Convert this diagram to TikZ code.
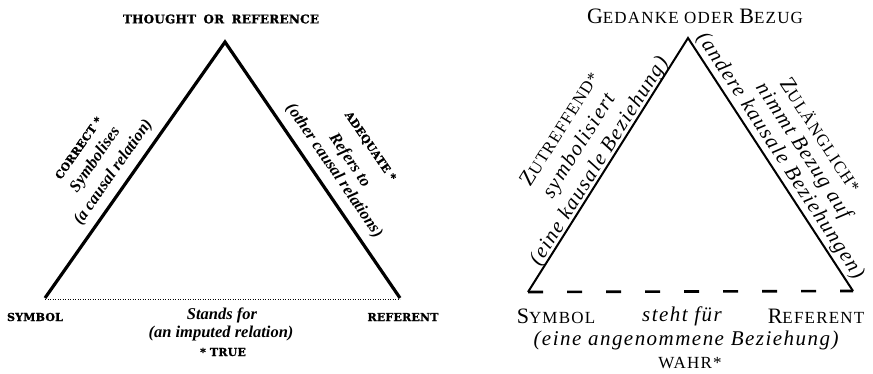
\documentclass[tikz,border=0pt]{standalone}
\usepackage{fontspec}
\setmainfont{Liberation Serif}
\newfontfamily\slabfont[LetterSpace=2, BoldFeatures={FakeBold=1.2}]{DejaVu Serif}
\newfontfamily\oldit{Liberation Serif}
\newfontfamily\minion[LetterSpace=7]{Liberation Serif}
\newfontfamily\minionit[LetterSpace=7]{Liberation Serif}
\newcommand\Bg[1]{{\fontsize{22}{24}\selectfont #1}}
\newcommand\Sm[1]{{\fontsize{17}{20}\selectfont #1}}
\tikzset{
  lcaps/.style={font=\slabfont\bfseries\fontsize{11}{12}\selectfont, inner sep=0pt},
  ltitle/.style={font=\slabfont\bfseries\fontsize{12}{14}\selectfont, inner sep=0pt},
  lit/.style={font=\oldit\bfseries\itshape\fontsize{16.5}{19}\selectfont, inner sep=0pt},
  rsc/.style={font=\minion, inner sep=0pt},
  rit/.style={font=\minionit\itshape\fontsize{21}{24}\selectfont, inner sep=0pt},
  lside/.style={line width=3.2pt, line join=miter, line cap=butt},
  rside/.style={line width=2pt, line join=miter, line cap=butt},
  ldots/.style={line width=0.9pt, dash pattern=on 0.9pt off 1.6pt},
  rdash/.style={line width=2.6pt, dash pattern=on 15pt off 24pt}
}
\begin{document}
\begin{tikzpicture}[x=1pt,y=-1pt]
\useasboundingbox (0,0) rectangle (873,373);
\fill[white] (0,0) rectangle (873,373);
% ---------- left triangle ----------
\coordinate (LA) at (225,42);
\coordinate (LS) at (45,298);
\coordinate (LR) at (400,298);
\draw[lside] (LS) -- (LA) -- (LR);
\draw[ldots] ([yshift=-1.5pt]LS) -- ([yshift=-1.5pt]LR);
\node[ltitle] (lt) at (221,19) {THOUGHT\hspace{3pt} OR\hspace{3pt} REFERENCE};
\node[lcaps] (lsym) at (35,317) {SYMBOL};
\node[lcaps] (lref) at (403,317) {REFERENT};
\node[lit] (lstand) at (222,315) {Stands for};
\node[lit] (limp) at (221,334) {(an imputed relation)};
\node[lcaps] (ltrue) at (223,352) {* TRUE};
\node[lit, rotate=55] (lcaus) at (113.5,172.5) {(a causal relation)};
\node[lit, rotate=55] (lsymb) at (95.5,160) {Symbolises};
\node[lcaps, rotate=55] (lcorr) at (78.5,148) {CORRECT *};
\node[lit, rotate=-55.6] (loth) at (334,171) {(other causal relations)};
\node[lit, rotate=-55.6] (lrefs) at (349.5,160.5) {Refers to};
\node[lcaps, rotate=-55.6] (ladeq) at (370,146.5) {ADEQUATE *};
% ---------- right triangle ----------
\coordinate (RA) at (688,38);
\coordinate (RS) at (528,292);
\coordinate (RR) at (853,291);
\draw[rside] (RS) -- (RA) -- (RR);
\draw[rdash] (RS) -- (RR);
\node[rsc] (rt) at (695,16) {\Bg{G}\Sm{EDANKE ODER }\Bg{B}\Sm{EZUG}};
\node[rsc] (rsym) at (556,316) {\Bg{S}\Sm{YMBOL}};
\node[rit] (rsteht) at (682,316) {steht für};
\node[rsc] (rref) at (816,316) {\Bg{R}\Sm{EFERENT}};
\node[rit] (rann) at (686,340) {(eine angenommene Beziehung)};
\node[rsc] (rwahr) at (690,363) {\Sm{WAHR*}};
\node[rit, rotate=57.8] (rkaus) at (599.5,161.7) {(eine kausale Beziehung)};
\node[rit, rotate=57.8] (rsymb) at (579.7,146.2) {symbolisiert};
\node[rsc, rotate=57.8] (rzut) at (559,128.4) {\Bg{Z}\Sm{UTREFFEND*}};
\node[rit, rotate=-56.9] (rand) at (780,156) {(andere kausale Beziehungen)};
\node[rit, rotate=-56.9] (rnimmt) at (803,151) {nimmt Bezug auf};
\node[rsc, rotate=-56.9] (rzul) at (821,135) {\Bg{Z}\Sm{ULÄNGLICH*}};
\end{tikzpicture}
\end{document}
